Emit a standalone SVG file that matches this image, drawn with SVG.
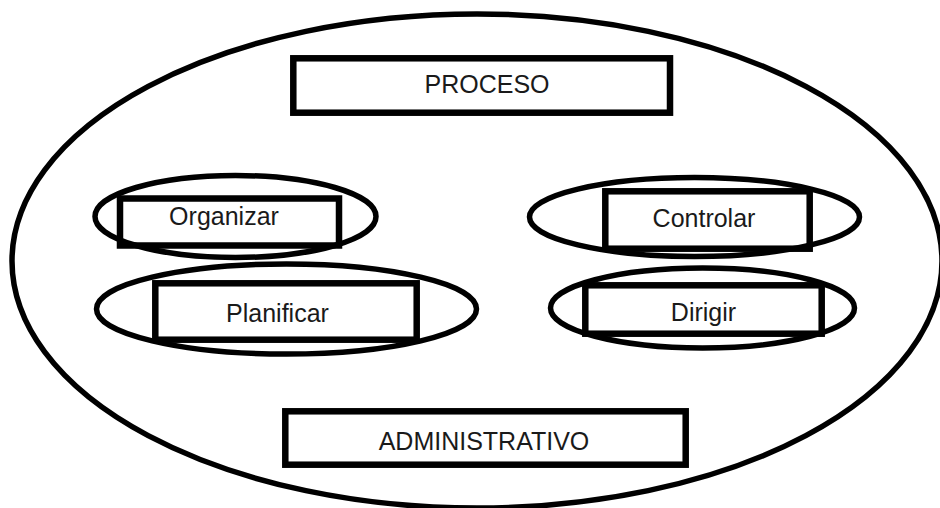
<svg xmlns="http://www.w3.org/2000/svg" width="940" height="508" viewBox="0 0 940 508">
<style>
.bg{fill:#fff}
.oval{fill:none;stroke:#000;stroke-width:5.5}
.box{fill:none;stroke:#000;stroke-width:6.5}
.lbl{font-family:"Liberation Sans",Arial,sans-serif;font-size:25px;fill:#1a1a1a;text-anchor:middle}
</style>
<rect class="bg" x="0" y="0" width="940" height="508"/>
<g id="outer">
<ellipse class="oval" cx="477" cy="261" rx="465" ry="247"/>
</g>
<g id="proceso">
<rect class="box" x="293.3" y="58.3" width="376.7" height="54.4"/>
<text class="lbl" x="487" y="93" font-size="26">PROCESO</text>
</g>
<g id="organizar">
<ellipse class="oval" cx="235.5" cy="216.5" rx="140.5" ry="41"/>
<rect class="box" x="120" y="198.5" width="219" height="47"/>
<text class="lbl" x="224" y="225">Organizar</text>
</g>
<g id="planificar">
<ellipse class="oval" cx="286.5" cy="309" rx="190" ry="45"/>
<rect class="box" x="155.3" y="283.3" width="261.4" height="56.4"/>
<text class="lbl" x="277.5" y="322">Planificar</text>
</g>
<g id="controlar">
<ellipse class="oval" cx="694.5" cy="217" rx="165" ry="39.5"/>
<rect class="box" x="605.3" y="191.3" width="204.4" height="57.4"/>
<text class="lbl" x="704" y="227">Controlar</text>
</g>
<g id="dirigir">
<ellipse class="oval" cx="702.5" cy="308" rx="152" ry="40"/>
<rect class="box" x="585.3" y="285.3" width="236.4" height="48.4"/>
<text class="lbl" x="703.5" y="321">Dirigir</text>
</g>
<g id="administrativo">
<rect class="box" x="285.3" y="411.3" width="400.4" height="53.4"/>
<text class="lbl" x="484" y="450" font-size="26">ADMINISTRATIVO</text>
</g>
<g id="connectors"></g>
</svg>
